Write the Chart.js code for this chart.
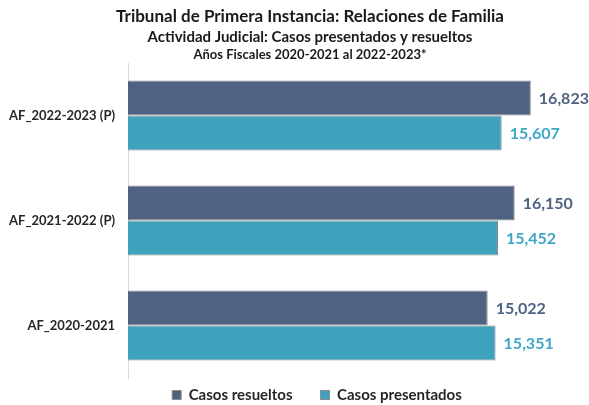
<!DOCTYPE html>
<html>
<head>
<meta charset="utf-8">
<script src="https://cdn.jsdelivr.net/npm/chart.js@4"></script>
<style>
html,body{margin:0;padding:0;background:#fff;}
#wrap{position:relative;width:589px;height:405px;}
</style>
</head>
<body>
<div id="wrap"><canvas id="c" width="589" height="405"></canvas></div>
<script>
const titleLines = ["Tribunal de Primera Instancia: Relaciones de Familia", "Actividad Judicial: Casos presentados y resueltos", "Años Fiscales 2020-2021 al 2022-2023*"];
const categories = ["AF_2022-2023 (P)", "AF_2021-2022 (P)", "AF_2020-2021"];
const seriesNames = ["Casos resueltos", "Casos presentados"];
const resueltos = [16823, 16150, 15022];
const presentados = [15607, 15452, 15351];

const FONT = "Lato, 'Open Sans', sans-serif";
const darkColor = '#4f6282';
const tealColor = '#3fa2bd';
const darkText = '#4f6282';
const tealText = '#3fa7c6';

const titlePlugin = {
  id: 'titles',
  afterDraw(chart) {
    const ctx = chart.ctx;
    ctx.save();
    ctx.fillStyle = '#1a1a1a';
    ctx.textAlign = 'center';
    ctx.textBaseline = 'alphabetic';
    const specs = [[17, 22], [15, 42], [13, 59]];
    titleLines.forEach((t, i) => {
      ctx.font = 'bold ' + specs[i][0] + 'px ' + FONT;
      ctx.fillText(t, 310, specs[i][1]);
    });
    ctx.restore();
  }
};

const valueLabels = {
  id: 'valueLabels',
  afterDatasetsDraw(chart) {
    const ctx = chart.ctx;
    ctx.save();
    ctx.font = 'bold 16px ' + FONT;
    ctx.textBaseline = 'middle';
    ctx.textAlign = 'left';
    chart.data.datasets.forEach((ds, di) => {
      const meta = chart.getDatasetMeta(di);
      ctx.fillStyle = di === 0 ? darkText : tealText;
      meta.data.forEach((bar, i) => {
        ctx.fillText(ds.data[i].toLocaleString('en-US'), bar.x + 8, bar.y + 1);
      });
    });
    ctx.restore();
  }
};

// move the legend row up and right, as in the original layout
const legendShift = {
  id: 'legendShift',
  afterLayout(chart) {
    const lg = chart.legend;
    if (lg) {
      lg.top -= 18.5; lg.bottom -= 18.5;
      lg.left += 37.5; lg.right += 37.5;
    }
  }
};

new Chart(document.getElementById('c'), {
  type: 'bar',
  data: {
    labels: categories,
    datasets: [
      { label: seriesNames[0], data: resueltos, backgroundColor: darkColor, borderColor: '#8a8a8a', borderWidth: 1, borderSkipped: 'left' },
      { label: seriesNames[1], data: presentados, backgroundColor: tealColor, borderColor: '#8a8a8a', borderWidth: 1, borderSkipped: 'left' }
    ]
  },
  options: {
    indexAxis: 'y',
    responsive: false,
    animation: false,
    devicePixelRatio: 1,
    layout: { padding: { top: 63, right: 30, left: 0, bottom: -26 } },
    datasets: { bar: { categoryPercentage: 0.667, barPercentage: 1.0 } },
    scales: {
      x: { display: false, min: 0, max: 18000 },
      y: {
        grid: { display: false, drawTicks: false },
        border: { display: true, color: '#d9d9d9', width: 1 },
        ticks: { color: '#262626', font: { family: FONT, size: 13, weight: 'bold' }, padding: 13 },
        afterFit(scale) { scale.width = 128; }
      }
    },
    plugins: {
      legend: {
        position: 'bottom',
        labels: {
          color: '#262626',
          font: { family: FONT, size: 15, weight: 'bold' },
          boxWidth: 9, boxHeight: 9, padding: 28
        }
      },
      tooltip: { enabled: false }
    }
  },
  plugins: [titlePlugin, valueLabels, legendShift]
});
</script>
</body>
</html>
